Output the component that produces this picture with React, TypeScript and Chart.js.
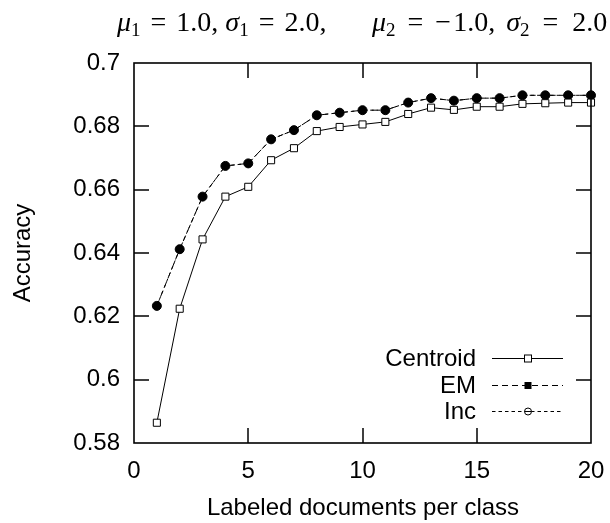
import React, { useEffect, useRef } from "react";
import { Chart, registerables } from "chart.js";

Chart.register(...registerables);

const docsPerClass = [1, 2, 3, 4, 5, 6, 7, 8, 9, 10, 11, 12, 13, 14, 15, 16, 17, 18, 19, 20];
const centroidAcc = [0.5864, 0.6224, 0.6443, 0.6578, 0.6609, 0.6693, 0.6731, 0.6785, 0.6798, 0.6806, 0.6814, 0.6839, 0.6859, 0.6852, 0.6862, 0.6862, 0.6871, 0.6873, 0.6875, 0.6875];
const emAcc = [0.6233, 0.6412, 0.6578, 0.6675, 0.6683, 0.6759, 0.6788, 0.6835, 0.6843, 0.6851, 0.6851, 0.6875, 0.6889, 0.6881, 0.6889, 0.6889, 0.6898, 0.6898, 0.6898, 0.6898];
const incAcc = [0.6233, 0.6412, 0.6578, 0.6675, 0.6683, 0.6759, 0.6788, 0.6835, 0.6843, 0.6851, 0.6851, 0.6875, 0.6889, 0.6881, 0.6889, 0.6889, 0.6898, 0.6898, 0.6898, 0.6898];
const xTicks = [0, 5, 10, 15, 20];
const yTicks = [0.58, 0.6, 0.62, 0.64, 0.66, 0.68, 0.7];
const seriesNames = ["Centroid", "EM", "Inc"];
const xTitle = "Labeled documents per class";
const yTitle = "Accuracy";

const SANS = "'Liberation Sans', Arial, sans-serif";
const SERIF = "'Liberation Serif', 'Times New Roman', serif";

const decorPlugin = {
  id: "decor",
  afterDraw(chart: any) {
    const { ctx, chartArea: a, scales } = chart;
    ctx.save();
    ctx.setLineDash([]);
    ctx.globalAlpha = 1;
    ctx.globalCompositeOperation = "source-over";
    ctx.strokeStyle = "#000000";
    const tl = 15;
    const xs = scales.x;
    const ys = scales.y;
    ctx.lineWidth = 1.5;
    xTicks.slice(1, xTicks.length - 1).forEach((v) => {
      const px = Math.round(xs.getPixelForValue(v));
      ctx.beginPath();
      ctx.moveTo(px, a.top);
      ctx.lineTo(px, a.top + tl);
      ctx.stroke();
      ctx.beginPath();
      ctx.moveTo(px, a.bottom);
      ctx.lineTo(px, a.bottom - tl);
      ctx.stroke();
    });
    yTicks.slice(1, yTicks.length - 1).forEach((v) => {
      const py = Math.round(ys.getPixelForValue(v));
      ctx.beginPath();
      ctx.moveTo(a.left, py);
      ctx.lineTo(a.left + tl, py);
      ctx.stroke();
      ctx.beginPath();
      ctx.moveTo(a.right, py);
      ctx.lineTo(a.right - tl, py);
      ctx.stroke();
    });
    ctx.lineWidth = 1.6;
    ctx.strokeRect(a.left, a.top, a.right - a.left, a.bottom - a.top);

    ctx.fillStyle = "#000";
    // axis titles
    ctx.font = `24px ${SANS}`;
    ctx.textAlign = "center";
    ctx.textBaseline = "alphabetic";
    ctx.fillText(xTitle, 363, 515);
    ctx.save();
    ctx.translate(30, 253);
    ctx.rotate(-Math.PI / 2);
    ctx.fillText(yTitle, 0, 0);
    ctx.restore();

    // title
    const drawMath = (parts: [string, string][], x0: number, base: number) => {
      let x = x0;
      ctx.textAlign = "left";
      ctx.textBaseline = "alphabetic";
      parts.forEach(([kind, txt]) => {
        if (kind === "i") {
          ctx.font = `italic 28px ${SERIF}`;
          ctx.fillText(txt, x, base);
        } else if (kind === "s") {
          ctx.font = `19px ${SERIF}`;
          ctx.fillText(txt, x, base + 5);
        } else if (kind === "g") {
          x += Number(txt);
          return;
        } else {
          ctx.font = `28px ${SERIF}`;
          ctx.fillText(txt, x, base);
        }
        x += ctx.measureText(txt).width;
      });
    };
    drawMath(
      [["i", "μ"], ["s", "1"], ["g", "10"], ["r", "="], ["g", "10"], ["r", "1.0,"], ["g", "7"], ["i", "σ"], ["s", "1"], ["g", "10"], ["r", "="], ["g", "10"], ["r", "2.0,"]],
      117,
      31
    );
    drawMath(
      [["i", "μ"], ["s", "2"], ["g", "12"], ["r", "="], ["g", "12"], ["r", "−"], ["g", "2"], ["r", "1.0,"], ["g", "11"], ["i", "σ"], ["s", "2"], ["g", "13"], ["r", "="], ["g", "14"], ["r", "2.0"]],
      372,
      31
    );

    // legend
    const rows = [358, 385, 411];
    const x0 = 492;
    const x1 = 563;
    const xm = 528;
    rows.forEach((y, i) => {
      ctx.font = `24px ${SANS}`;
      ctx.textAlign = "right";
      ctx.textBaseline = "middle";
      ctx.fillStyle = "#000";
      ctx.fillText(seriesNames[i], 476, y + 1);
      ctx.strokeStyle = "#000";
      ctx.lineWidth = 1;
      ctx.setLineDash(i === 0 ? [] : i === 1 ? [6, 4] : [3.5, 3]);
      ctx.beginPath();
      ctx.moveTo(x0, y + 0.5);
      ctx.lineTo(x1, y + 0.5);
      ctx.stroke();
      ctx.setLineDash([]);
      if (i === 0) {
        ctx.fillStyle = "#fff";
        ctx.fillRect(xm - 3.5, y - 3, 7, 7);
        ctx.strokeRect(xm - 3.5, y - 3, 7, 7);
      } else if (i === 1) {
        ctx.fillStyle = "#000";
        ctx.fillRect(xm - 3.5, y - 3, 7, 7);
      } else {
        ctx.fillStyle = "#fff";
        ctx.beginPath();
        ctx.arc(xm, y + 0.5, 3.5, 0, Math.PI * 2);
        ctx.fill();
        ctx.stroke();
        ctx.beginPath();
        ctx.moveTo(xm - 3.5, y + 0.5);
        ctx.lineTo(xm + 3.5, y + 0.5);
        ctx.stroke();
      }
    });
    ctx.restore();
  },
};

export default function App() {
  const ref = useRef<HTMLCanvasElement>(null);
  useEffect(() => {
    if (!ref.current) return;
    const pts = (ys: number[]) => docsPerClass.map((x, i) => ({ x, y: ys[i] }));
    const chart = new Chart(ref.current, {
      type: "line",
      data: {
        datasets: [
          {
            label: seriesNames[0],
            data: pts(centroidAcc),
            borderColor: "#000",
            borderWidth: 1,
            pointStyle: "rect",
            pointRadius: 5,
            pointBackgroundColor: "#fff",
            pointBorderColor: "#000",
            pointBorderWidth: 1,
            tension: 0,
            clip: false,
            order: 0,
          },
          {
            label: seriesNames[1],
            data: pts(emAcc),
            borderColor: "#000",
            borderWidth: 1,
            borderDash: [6, 4],
            pointStyle: "circle",
            pointRadius: 4.5,
            pointBackgroundColor: "#000",
            pointBorderColor: "#000",
            pointBorderWidth: 1,
            tension: 0,
            clip: false,
            order: 1,
          },
          {
            label: seriesNames[2],
            data: pts(incAcc),
            borderColor: "#000",
            borderWidth: 1,
            borderDash: [3.5, 3],
            pointStyle: "circle",
            pointRadius: 3.5,
            pointBackgroundColor: "#fff",
            pointBorderColor: "#000",
            pointBorderWidth: 1,
            tension: 0,
            clip: false,
            order: 2,
          },
        ],
      },
      options: {
        responsive: false,
        animation: false,
        devicePixelRatio: 1,
        layout: { padding: { top: 63, right: 19, left: 0, bottom: 0 } },
        plugins: { legend: { display: false }, tooltip: { enabled: false }, title: { display: false } },
        scales: {
          x: {
            type: "linear",
            min: 0,
            max: 20,
            afterBuildTicks: (s: any) => {
              s.ticks = xTicks.map((v) => ({ value: v }));
            },
            afterFit: (s: any) => {
              s.height = 80;
              s.paddingLeft = 0;
              s.paddingRight = 0;
            },
            ticks: {
              color: "#000",
              font: { family: SANS, size: 24 },
              padding: 14,
              maxRotation: 0,
              autoSkip: false,
              callback: (v: any) => String(v),
            },
            grid: { display: false, drawTicks: false },
            border: { display: false },
          },
          y: {
            type: "linear",
            min: 0.58,
            max: 0.7,
            afterBuildTicks: (s: any) => {
              s.ticks = yTicks.map((v) => ({ value: v }));
            },
            afterFit: (s: any) => {
              s.width = 134;
              s.paddingTop = 0;
              s.paddingBottom = 0;
            },
            ticks: {
              color: "#000",
              font: { family: SANS, size: 24 },
              padding: 14,
              autoSkip: false,
              callback: (v: any) => String(Number(Number(v).toFixed(2))),
            },
            grid: { display: false, drawTicks: false },
            border: { display: false },
          },
        },
      },
      plugins: [decorPlugin],
    });
    return () => chart.destroy();
  }, []);
  return (
    <div style={{ position: "absolute", left: 0, top: 0, width: 610, height: 523, background: "#fff" }}>
      <canvas ref={ref} width={610} height={523} style={{ width: 610, height: 523, display: "block" }} />
    </div>
  );
}
